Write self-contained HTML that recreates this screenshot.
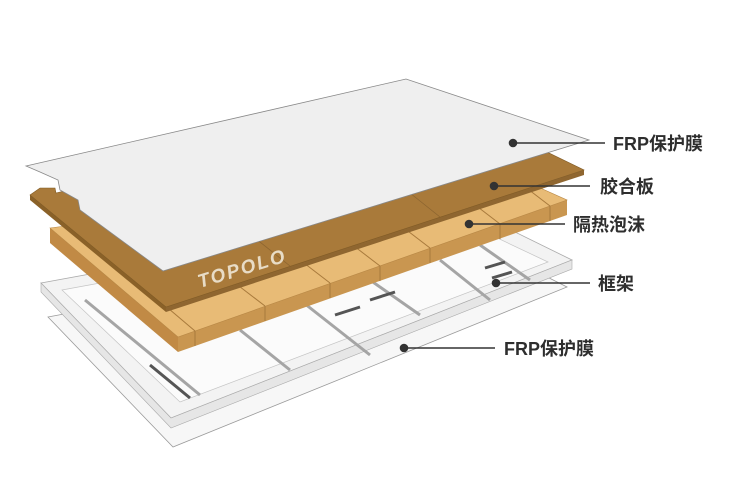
<!DOCTYPE html>
<html><head><meta charset="utf-8"><style>
html,body{margin:0;padding:0;background:#fff;}
svg{display:block}
.lb{font-family:"Liberation Sans","Noto Sans CJK SC",sans-serif;font-weight:bold;font-size:18px;fill:#2e2e2e}
</style></head><body>
<svg width="750" height="499" viewBox="0 0 750 499" xmlns="http://www.w3.org/2000/svg">
<!-- bottom sheet -->
<polygon points="48,317 470,238 567,287 173,447" fill="#f7f7f7" stroke="#9a9a9a" stroke-width="0.8"/>
<!-- frame -->
<polygon points="41,283 462,206 572,260 171,418" fill="#f3f3f3" stroke="#aaa" stroke-width="0.8"/>
<polygon points="41,283 41,292 171,428 572,269 572,260 171,418" fill="#e6e6e6" stroke="#aaa" stroke-width="0.6"/>
<polygon points="62,290 455,218 548,262 180,402" fill="#fbfbfb" stroke="#c4c4c4" stroke-width="0.7"/>
<g stroke="#a5a5a5" stroke-width="3">
<line x1="85" y1="300" x2="200" y2="395"/>
<line x1="240" y1="330" x2="290" y2="370"/>
<line x1="300" y1="300" x2="370" y2="355"/>
<line x1="370" y1="280" x2="420" y2="315"/>
<line x1="440" y1="260" x2="490" y2="300"/>
<line x1="480" y1="245" x2="530" y2="280"/>
</g>
<g stroke="#555" stroke-width="3">
<line x1="335" y1="315" x2="360" y2="307"/>
<line x1="370" y1="300" x2="395" y2="292"/>
<line x1="485" y1="268" x2="505" y2="262"/>
<line x1="492" y1="278" x2="512" y2="272"/>
<line x1="150" y1="365" x2="190" y2="398"/>
</g>
<!-- foam -->
<polygon points="50,228 178,337 178,352 50,243" fill="#c18a45"/>
<polygon points="178,337 567,200 567,215 178,352" fill="#c99650"/>
<polygon points="50,228 500,170 567,200 178,337" fill="#e8bb76" stroke="#b78643" stroke-width="0.6"/>
<g stroke="#a87a3c" stroke-width="1">
<line x1="70" y1="225" x2="195" y2="331"/>
<line x1="195" y1="331" x2="195" y2="346"/>
<line x1="265" y1="306" x2="235" y2="283"/>
<line x1="265" y1="306" x2="265" y2="321"/>
<line x1="330" y1="283" x2="300" y2="260"/>
<line x1="330" y1="283" x2="330" y2="298"/>
<line x1="380" y1="266" x2="350" y2="243"/>
<line x1="380" y1="266" x2="380" y2="281"/>
<line x1="430" y1="248" x2="400" y2="225"/>
<line x1="430" y1="248" x2="430" y2="263"/>
<line x1="500" y1="224" x2="470" y2="201"/>
<line x1="500" y1="224" x2="500" y2="239"/>
<line x1="550" y1="206" x2="520" y2="183"/>
<line x1="550" y1="206" x2="550" y2="221"/>
</g>
<!-- plywood -->
<polygon points="30,195 166,307 166,312 30,200" fill="#8a6128"/>
<polygon points="166,307 584,170 584,175 166,312" fill="#8f6630"/>
<polygon points="30,195 40,188 55,188 56,193 440,100 584,170 166,307" fill="#a97a3a" stroke="#7f5a25" stroke-width="0.6"/>
<line x1="290" y1="266" x2="250" y2="234" stroke="#8c6530" stroke-width="0.8"/>
<line x1="440" y1="217" x2="400" y2="185" stroke="#8c6530" stroke-width="0.8"/>
<text x="200" y="288" transform="rotate(-17 200 288)" font-family="Liberation Sans,sans-serif" font-weight="bold" font-style="italic" font-size="19" letter-spacing="2" fill="#e8dcc6">TOPOLO</text>
<!-- top sheet -->
<polygon points="26,166 406,79 589,140 163,271 80,210 78,200 60,190 58,180 40,172" fill="#efefef" stroke="#888" stroke-width="0.8"/>
<!-- labels -->
<g stroke="#333" stroke-width="1.6" fill="#333">
<circle cx="513" cy="143" r="3.5"/><line x1="513" y1="143" x2="605" y2="143"/>
<circle cx="494" cy="186" r="3.5"/><line x1="494" y1="186" x2="590" y2="186"/>
<circle cx="469" cy="224" r="3.5"/><line x1="469" y1="224" x2="565" y2="224"/>
<circle cx="496" cy="283" r="3.5"/><line x1="496" y1="283" x2="590" y2="283"/>
<circle cx="404" cy="348" r="3.5"/><line x1="404" y1="348" x2="495" y2="348"/>
</g>
<text class="lb" x="613" y="150">FRP保护膜</text>
<text class="lb" x="600" y="193">胶合板</text>
<text class="lb" x="573" y="231">隔热泡沫</text>
<text class="lb" x="598" y="290">框架</text>
<text class="lb" x="504" y="355">FRP保护膜</text>
</svg>
</body></html>
